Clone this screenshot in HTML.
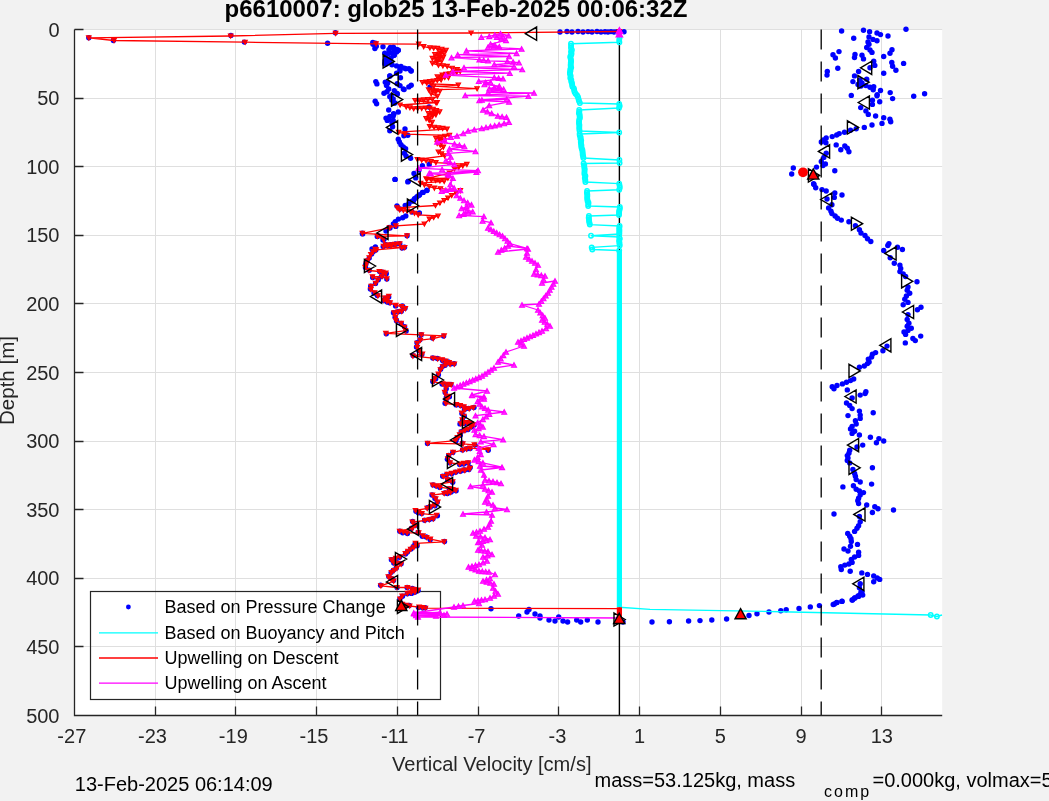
<!DOCTYPE html>
<html><head><meta charset="utf-8"><title>p6610007</title>
<style>html,body{margin:0;padding:0;background:#f2f2f2;overflow:hidden}body{width:1049px;height:801px}</style></head>
<body>
<svg width="1049" height="801" viewBox="0 0 1049 801" style="display:block;will-change:transform">
<rect x="0" y="0" width="1049" height="801" fill="#f2f2f2"/>
<rect x="74.5" y="29.5" width="867.7" height="686" fill="#fff"/>
<path d="M74.5 29.5V715.5M155.5 29.5V715.5M235.5 29.5V715.5M316.5 29.5V715.5M397.5 29.5V715.5M478.5 29.5V715.5M558.5 29.5V715.5M639.5 29.5V715.5M720.5 29.5V715.5M801.5 29.5V715.5M881.5 29.5V715.5M74.5 29.5H942.2M74.5 98.5H942.2M74.5 166.5H942.2M74.5 235.5H942.2M74.5 303.5H942.2M74.5 372.5H942.2M74.5 441.5H942.2M74.5 509.5H942.2M74.5 578.5H942.2M74.5 646.5H942.2M74.5 715.5H942.2" stroke="#dfdfdf" stroke-width="1" fill="none"/>
<rect x="90.5" y="591.5" width="350" height="108" fill="none" stroke="#262626" stroke-width="1.2"/>
<path d="M619.4 29.5V715.5" stroke="#000" stroke-width="1.4" fill="none"/>
<g fill="#0000ff"><circle cx="327.6" cy="43.2" r="2.7"/><circle cx="560" cy="32" r="2.7"/><circle cx="567" cy="31.5" r="2.7"/><circle cx="572" cy="32" r="2.7"/><circle cx="578" cy="31.5" r="2.7"/><circle cx="583" cy="32" r="2.7"/><circle cx="588" cy="31.6" r="2.7"/><circle cx="592" cy="32" r="2.7"/><circle cx="597" cy="31.5" r="2.7"/><circle cx="601" cy="32" r="2.7"/><circle cx="605" cy="31.7" r="2.7"/><circle cx="608" cy="32" r="2.7"/><circle cx="611" cy="31.6" r="2.7"/><circle cx="614" cy="32" r="2.7"/><circle cx="617" cy="31.7" r="2.7"/><circle cx="620" cy="32" r="2.7"/><circle cx="624" cy="31.8" r="2.7"/><circle cx="430" cy="87" r="2.7"/><circle cx="429" cy="107" r="2.7"/><circle cx="491" cy="608.8" r="2.7"/><circle cx="373" cy="44.2" r="2.7"/><circle cx="376.3" cy="46.2" r="2.7"/><circle cx="383" cy="46.8" r="2.7"/><circle cx="390.4" cy="47.4" r="2.7"/><circle cx="394.3" cy="49.6" r="2.7"/><circle cx="398.3" cy="50.2" r="2.7"/><circle cx="396.6" cy="51.9" r="2.7"/><circle cx="392" cy="53" r="2.7"/><circle cx="387.6" cy="54.1" r="2.7"/><circle cx="393.8" cy="55.2" r="2.7"/><circle cx="388.7" cy="60.3" r="2.7"/><circle cx="384.8" cy="63.7" r="2.7"/><circle cx="392" cy="64.8" r="2.7"/><circle cx="396.6" cy="65.9" r="2.7"/><circle cx="401" cy="66.5" r="2.7"/><circle cx="404.4" cy="68.1" r="2.7"/><circle cx="409" cy="68.7" r="2.7"/><circle cx="411.2" cy="71" r="2.7"/><circle cx="400" cy="71" r="2.7"/><circle cx="396.6" cy="73.2" r="2.7"/><circle cx="389.8" cy="76" r="2.7"/><circle cx="400.5" cy="77.7" r="2.7"/><circle cx="375.8" cy="81.6" r="2.7"/><circle cx="376.9" cy="83.9" r="2.7"/><circle cx="385.3" cy="82.2" r="2.7"/><circle cx="386.5" cy="85.6" r="2.7"/><circle cx="400" cy="85.6" r="2.7"/><circle cx="411.2" cy="85.2" r="2.7"/><circle cx="403.3" cy="89" r="2.7"/><circle cx="388.7" cy="89" r="2.7"/><circle cx="387" cy="91.7" r="2.7"/><circle cx="394.3" cy="90.6" r="2.7"/><circle cx="397.1" cy="93.4" r="2.7"/><circle cx="389.8" cy="96.8" r="2.7"/><circle cx="393.2" cy="99" r="2.7"/><circle cx="375.2" cy="101.3" r="2.7"/><circle cx="394.9" cy="103" r="2.7"/><circle cx="388.7" cy="110" r="2.7"/><circle cx="398.3" cy="112" r="2.7"/><circle cx="393.8" cy="114.2" r="2.7"/><circle cx="389.8" cy="116.5" r="2.7"/><circle cx="388.1" cy="119.3" r="2.7"/><circle cx="393.2" cy="120.4" r="2.7"/><circle cx="393.2" cy="116.1" r="2.7"/><circle cx="388.7" cy="119.5" r="2.7"/><circle cx="392" cy="122.9" r="2.7"/><circle cx="392.6" cy="126.8" r="2.7"/><circle cx="405" cy="129" r="2.7"/><circle cx="389.8" cy="130.7" r="2.7"/><circle cx="403.9" cy="135.8" r="2.7"/><circle cx="407.8" cy="135.2" r="2.7"/><circle cx="398.3" cy="139.2" r="2.7"/><circle cx="399.4" cy="142" r="2.7"/><circle cx="401" cy="144.8" r="2.7"/><circle cx="403.3" cy="147" r="2.7"/><circle cx="405.6" cy="148.7" r="2.7"/><circle cx="404.4" cy="153.2" r="2.7"/><circle cx="406.1" cy="156" r="2.7"/><circle cx="410.6" cy="158.3" r="2.7"/><circle cx="422.4" cy="165.6" r="2.7"/><circle cx="429.2" cy="164.4" r="2.7"/><circle cx="419" cy="170" r="2.7"/><circle cx="414" cy="173.4" r="2.7"/><circle cx="415.7" cy="177.9" r="2.7"/><circle cx="407.8" cy="181.9" r="2.7"/><circle cx="395.1" cy="179.4" r="2.7"/><circle cx="426.9" cy="190.3" r="2.7"/><circle cx="422.4" cy="192.5" r="2.7"/><circle cx="419" cy="195.3" r="2.7"/><circle cx="415.7" cy="198.1" r="2.7"/><circle cx="413.4" cy="201" r="2.7"/><circle cx="408.9" cy="203.8" r="2.7"/><circle cx="395" cy="179.4" r="2.7"/><circle cx="408.3" cy="181.3" r="2.7"/><circle cx="426.9" cy="190.6" r="2.7"/><circle cx="423.2" cy="192.4" r="2.7"/><circle cx="419.4" cy="194.9" r="2.7"/><circle cx="417" cy="196.8" r="2.7"/><circle cx="414.5" cy="198.6" r="2.7"/><circle cx="412" cy="201.1" r="2.7"/><circle cx="405.2" cy="205.5" r="2.7"/><circle cx="419.4" cy="212.9" r="2.7"/><circle cx="405.8" cy="216" r="2.7"/><circle cx="402.7" cy="217.8" r="2.7"/><circle cx="398.4" cy="219.1" r="2.7"/><circle cx="395.3" cy="221.6" r="2.7"/><circle cx="393.4" cy="224" r="2.7"/><circle cx="390" cy="228" r="2.7"/><circle cx="386" cy="231" r="2.7"/><circle cx="377.3" cy="236.4" r="2.7"/><circle cx="375.4" cy="247" r="2.7"/><circle cx="372" cy="249" r="2.7"/><circle cx="397" cy="206" r="2.7"/><circle cx="400" cy="209" r="2.7"/><circle cx="412" cy="212" r="2.7"/><circle cx="362.4" cy="233.3" r="2.7"/><circle cx="383" cy="240" r="2.7"/><circle cx="386" cy="245" r="2.7"/><circle cx="841.6" cy="31" r="2.7"/><circle cx="863.5" cy="30.2" r="2.7"/><circle cx="869.6" cy="31.7" r="2.7"/><circle cx="877" cy="33" r="2.7"/><circle cx="880.5" cy="34.6" r="2.7"/><circle cx="888" cy="36" r="2.7"/><circle cx="906" cy="29.2" r="2.7"/><circle cx="853.7" cy="38.3" r="2.7"/><circle cx="869" cy="37" r="2.7"/><circle cx="873" cy="39.4" r="2.7"/><circle cx="877" cy="40.7" r="2.7"/><circle cx="868" cy="41.9" r="2.7"/><circle cx="869" cy="44.3" r="2.7"/><circle cx="866.7" cy="47.5" r="2.7"/><circle cx="870" cy="50" r="2.7"/><circle cx="872" cy="52.4" r="2.7"/><circle cx="892" cy="49.7" r="2.7"/><circle cx="890" cy="53.2" r="2.7"/><circle cx="839" cy="51.6" r="2.7"/><circle cx="833" cy="54.8" r="2.7"/><circle cx="835.4" cy="58" r="2.7"/><circle cx="855" cy="54.4" r="2.7"/><circle cx="854.5" cy="57.6" r="2.7"/><circle cx="862" cy="55.3" r="2.7"/><circle cx="863.5" cy="58.9" r="2.7"/><circle cx="883.7" cy="56.5" r="2.7"/><circle cx="873.7" cy="61.3" r="2.7"/><circle cx="874.8" cy="65.4" r="2.7"/><circle cx="891.8" cy="62.5" r="2.7"/><circle cx="892.6" cy="66.2" r="2.7"/><circle cx="903.6" cy="63.4" r="2.7"/><circle cx="895.9" cy="70.2" r="2.7"/><circle cx="883.7" cy="73.2" r="2.7"/><circle cx="837.8" cy="68.3" r="2.7"/><circle cx="827.3" cy="71.5" r="2.7"/><circle cx="827" cy="75.1" r="2.7"/><circle cx="870" cy="67.8" r="2.7"/><circle cx="858.6" cy="71.5" r="2.7"/><circle cx="854.5" cy="75.9" r="2.7"/><circle cx="852.9" cy="81.6" r="2.7"/><circle cx="866.7" cy="79.2" r="2.7"/><circle cx="865.9" cy="85.6" r="2.7"/><circle cx="870" cy="87.3" r="2.7"/><circle cx="873.7" cy="86.8" r="2.7"/><circle cx="873.2" cy="89.7" r="2.7"/><circle cx="880.5" cy="90.5" r="2.7"/><circle cx="877.2" cy="94.6" r="2.7"/><circle cx="890.2" cy="92.6" r="2.7"/><circle cx="851.3" cy="95.4" r="2.7"/><circle cx="892.6" cy="98.6" r="2.7"/><circle cx="913.7" cy="96.2" r="2.7"/><circle cx="924.6" cy="93.7" r="2.7"/><circle cx="872.4" cy="100.2" r="2.7"/><circle cx="879.7" cy="101.8" r="2.7"/><circle cx="877" cy="95.8" r="2.7"/><circle cx="872.4" cy="104.4" r="2.7"/><circle cx="860.7" cy="107.6" r="2.7"/><circle cx="865.9" cy="110.9" r="2.7"/><circle cx="868.3" cy="114.4" r="2.7"/><circle cx="875.6" cy="116" r="2.7"/><circle cx="883.7" cy="117.7" r="2.7"/><circle cx="889.9" cy="119.3" r="2.7"/><circle cx="890.7" cy="121.7" r="2.7"/><circle cx="882" cy="123.4" r="2.7"/><circle cx="872" cy="125" r="2.7"/><circle cx="864.3" cy="127.4" r="2.7"/><circle cx="856.2" cy="128.7" r="2.7"/><circle cx="850.5" cy="130.3" r="2.7"/><circle cx="844.5" cy="132.3" r="2.7"/><circle cx="839.2" cy="133.6" r="2.7"/><circle cx="836.7" cy="135" r="2.7"/><circle cx="832.2" cy="136.6" r="2.7"/><circle cx="826.2" cy="138" r="2.7"/><circle cx="823.4" cy="140" r="2.7"/><circle cx="821.3" cy="142" r="2.7"/><circle cx="825.9" cy="142.8" r="2.7"/><circle cx="836.2" cy="144.9" r="2.7"/><circle cx="844.8" cy="146" r="2.7"/><circle cx="847.3" cy="148.2" r="2.7"/><circle cx="840.8" cy="149.8" r="2.7"/><circle cx="848.9" cy="151.7" r="2.7"/><circle cx="826.2" cy="153.3" r="2.7"/><circle cx="823.8" cy="157.4" r="2.7"/><circle cx="821.3" cy="161.4" r="2.7"/><circle cx="825.4" cy="163.9" r="2.7"/><circle cx="823" cy="165.5" r="2.7"/><circle cx="816.5" cy="167.1" r="2.7"/><circle cx="834.8" cy="170.7" r="2.7"/><circle cx="793.3" cy="168" r="2.7"/><circle cx="791.7" cy="174" r="2.7"/><circle cx="813.6" cy="183.7" r="2.7"/><circle cx="814" cy="184.4" r="2.7"/><circle cx="815.7" cy="187.7" r="2.7"/><circle cx="822" cy="189.6" r="2.7"/><circle cx="826.2" cy="191" r="2.7"/><circle cx="834.8" cy="192.9" r="2.7"/><circle cx="842" cy="195" r="2.7"/><circle cx="834.3" cy="197.4" r="2.7"/><circle cx="827" cy="199" r="2.7"/><circle cx="831.9" cy="204.7" r="2.7"/><circle cx="828.6" cy="208" r="2.7"/><circle cx="831" cy="211.2" r="2.7"/><circle cx="831.9" cy="213.6" r="2.7"/><circle cx="835.1" cy="216" r="2.7"/><circle cx="837.5" cy="218.2" r="2.7"/><circle cx="841.3" cy="220.1" r="2.7"/><circle cx="848.9" cy="221.7" r="2.7"/><circle cx="855.4" cy="225.8" r="2.7"/><circle cx="859.4" cy="229.8" r="2.7"/><circle cx="861" cy="233" r="2.7"/><circle cx="865" cy="235.5" r="2.7"/><circle cx="867.5" cy="238.7" r="2.7"/><circle cx="870.8" cy="241.5" r="2.7"/><circle cx="888.9" cy="243.6" r="2.7"/><circle cx="887.8" cy="245.5" r="2.7"/><circle cx="897.5" cy="247.3" r="2.7"/><circle cx="902.4" cy="249.5" r="2.7"/><circle cx="883.7" cy="250.5" r="2.7"/><circle cx="890.2" cy="257.8" r="2.7"/><circle cx="894.3" cy="263.2" r="2.7"/><circle cx="899.9" cy="265.1" r="2.7"/><circle cx="900.7" cy="268.4" r="2.7"/><circle cx="899.9" cy="271.6" r="2.7"/><circle cx="903.2" cy="274" r="2.7"/><circle cx="905.6" cy="276.5" r="2.7"/><circle cx="917" cy="281.7" r="2.7"/><circle cx="908" cy="287" r="2.7"/><circle cx="907.2" cy="290.2" r="2.7"/><circle cx="909.7" cy="293.2" r="2.7"/><circle cx="906.4" cy="295.9" r="2.7"/><circle cx="904.8" cy="299.2" r="2.7"/><circle cx="908" cy="302.4" r="2.7"/><circle cx="903.2" cy="304.8" r="2.7"/><circle cx="921" cy="307.3" r="2.7"/><circle cx="917.4" cy="309.7" r="2.7"/><circle cx="908" cy="314.6" r="2.7"/><circle cx="907.2" cy="319.4" r="2.7"/><circle cx="908.9" cy="323.3" r="2.7"/><circle cx="907.2" cy="326.3" r="2.7"/><circle cx="911.3" cy="328.3" r="2.7"/><circle cx="908" cy="330.4" r="2.7"/><circle cx="904" cy="332" r="2.7"/><circle cx="905.6" cy="334.4" r="2.7"/><circle cx="920.7" cy="336.1" r="2.7"/><circle cx="912.9" cy="338.5" r="2.7"/><circle cx="915.3" cy="340.6" r="2.7"/><circle cx="905.3" cy="342.9" r="2.7"/><circle cx="887" cy="346.1" r="2.7"/><circle cx="882.9" cy="350.7" r="2.7"/><circle cx="875.6" cy="352.6" r="2.7"/><circle cx="872.4" cy="354.2" r="2.7"/><circle cx="871.6" cy="357.1" r="2.7"/><circle cx="868.3" cy="359.1" r="2.7"/><circle cx="869.1" cy="362" r="2.7"/><circle cx="867.5" cy="363.6" r="2.7"/><circle cx="864.3" cy="366" r="2.7"/><circle cx="859.4" cy="367.2" r="2.7"/><circle cx="853.7" cy="379" r="2.7"/><circle cx="850.5" cy="380.6" r="2.7"/><circle cx="846.5" cy="382.3" r="2.7"/><circle cx="842.4" cy="383.9" r="2.7"/><circle cx="837" cy="385.5" r="2.7"/><circle cx="832.2" cy="386.8" r="2.7"/><circle cx="834" cy="388.7" r="2.7"/><circle cx="847.3" cy="389.9" r="2.7"/><circle cx="865.9" cy="391.8" r="2.7"/><circle cx="865.1" cy="393.6" r="2.7"/><circle cx="860.2" cy="395.1" r="2.7"/><circle cx="852.1" cy="397.9" r="2.7"/><circle cx="846.5" cy="403" r="2.7"/><circle cx="849.7" cy="405.4" r="2.7"/><circle cx="852.1" cy="408.6" r="2.7"/><circle cx="859.4" cy="411.1" r="2.7"/><circle cx="873.2" cy="412.7" r="2.7"/><circle cx="860.2" cy="415.1" r="2.7"/><circle cx="848" cy="415.6" r="2.7"/><circle cx="860.2" cy="418.4" r="2.7"/><circle cx="855.4" cy="420.8" r="2.7"/><circle cx="856.2" cy="424" r="2.7"/><circle cx="852.1" cy="426.5" r="2.7"/><circle cx="850.5" cy="428.9" r="2.7"/><circle cx="854.6" cy="431.3" r="2.7"/><circle cx="852.1" cy="433.4" r="2.7"/><circle cx="859.4" cy="435" r="2.7"/><circle cx="870.4" cy="437.3" r="2.7"/><circle cx="878.9" cy="438.6" r="2.7"/><circle cx="883.7" cy="441" r="2.7"/><circle cx="876.4" cy="442.7" r="2.7"/><circle cx="862.7" cy="445.1" r="2.7"/><circle cx="857" cy="447" r="2.7"/><circle cx="849.7" cy="450.3" r="2.7"/><circle cx="848.9" cy="453.2" r="2.7"/><circle cx="847.3" cy="455.6" r="2.7"/><circle cx="848" cy="458" r="2.7"/><circle cx="847.3" cy="460.5" r="2.7"/><circle cx="849.7" cy="462.9" r="2.7"/><circle cx="872.4" cy="467.8" r="2.7"/><circle cx="852.9" cy="469.4" r="2.7"/><circle cx="854.6" cy="473.5" r="2.7"/><circle cx="855.4" cy="476.3" r="2.7"/><circle cx="856.2" cy="479.6" r="2.7"/><circle cx="860.2" cy="482" r="2.7"/><circle cx="871.6" cy="484.1" r="2.7"/><circle cx="853.4" cy="485.7" r="2.7"/><circle cx="842.9" cy="486.9" r="2.7"/><circle cx="856.2" cy="489.3" r="2.7"/><circle cx="859.4" cy="490.9" r="2.7"/><circle cx="863.5" cy="492.6" r="2.7"/><circle cx="860.2" cy="495" r="2.7"/><circle cx="858.6" cy="498.2" r="2.7"/><circle cx="857.8" cy="500.7" r="2.7"/><circle cx="858.6" cy="503.6" r="2.7"/><circle cx="866.7" cy="505" r="2.7"/><circle cx="874.8" cy="506.8" r="2.7"/><circle cx="878" cy="508.8" r="2.7"/><circle cx="893.5" cy="510" r="2.7"/><circle cx="872.4" cy="512.5" r="2.7"/><circle cx="834" cy="514" r="2.7"/><circle cx="859.4" cy="516.5" r="2.7"/><circle cx="860.2" cy="521.7" r="2.7"/><circle cx="858.6" cy="525.8" r="2.7"/><circle cx="857" cy="528.2" r="2.7"/><circle cx="854.6" cy="531.4" r="2.7"/><circle cx="847.7" cy="533.4" r="2.7"/><circle cx="849.7" cy="536.3" r="2.7"/><circle cx="851" cy="538.7" r="2.7"/><circle cx="851.3" cy="541.4" r="2.7"/><circle cx="857.5" cy="544.4" r="2.7"/><circle cx="850.5" cy="546.2" r="2.7"/><circle cx="844" cy="549" r="2.7"/><circle cx="848" cy="551" r="2.7"/><circle cx="858.6" cy="552.2" r="2.7"/><circle cx="858.6" cy="555.4" r="2.7"/><circle cx="854.6" cy="557" r="2.7"/><circle cx="851.3" cy="559.4" r="2.7"/><circle cx="852.1" cy="562.4" r="2.7"/><circle cx="848.9" cy="564" r="2.7"/><circle cx="844.8" cy="565.1" r="2.7"/><circle cx="840.8" cy="566.7" r="2.7"/><circle cx="841.3" cy="569.5" r="2.7"/><circle cx="850.2" cy="571.3" r="2.7"/><circle cx="861.8" cy="572.9" r="2.7"/><circle cx="867.5" cy="574.4" r="2.7"/><circle cx="873.7" cy="576" r="2.7"/><circle cx="879.7" cy="579.4" r="2.7"/><circle cx="877.2" cy="578" r="2.7"/><circle cx="873.7" cy="581.8" r="2.7"/><circle cx="860.2" cy="583.8" r="2.7"/><circle cx="859.4" cy="587.8" r="2.7"/><circle cx="861" cy="591.9" r="2.7"/><circle cx="862.7" cy="595.1" r="2.7"/><circle cx="858.6" cy="596.4" r="2.7"/><circle cx="854.6" cy="598" r="2.7"/><circle cx="852.1" cy="600" r="2.7"/><circle cx="842" cy="601.3" r="2.7"/><circle cx="836.7" cy="602.4" r="2.7"/><circle cx="833.2" cy="604.5" r="2.7"/><circle cx="819.4" cy="605.6" r="2.7"/><circle cx="810.3" cy="606.9" r="2.7"/><circle cx="799" cy="608.4" r="2.7"/><circle cx="786.2" cy="609.7" r="2.7"/><circle cx="780.8" cy="610.8" r="2.7"/><circle cx="769" cy="612" r="2.7"/><circle cx="757" cy="613.7" r="2.7"/><circle cx="749" cy="615.5" r="2.7"/><circle cx="726.6" cy="619" r="2.7"/><circle cx="711.8" cy="620" r="2.7"/><circle cx="700" cy="620.6" r="2.7"/><circle cx="688.6" cy="621" r="2.7"/><circle cx="669.4" cy="621.7" r="2.7"/><circle cx="652" cy="622" r="2.7"/><circle cx="623" cy="622" r="2.7"/><circle cx="598" cy="622" r="2.7"/><circle cx="587.3" cy="620" r="2.7"/><circle cx="580.7" cy="622" r="2.7"/><circle cx="576.7" cy="620" r="2.7"/><circle cx="567.6" cy="622" r="2.7"/><circle cx="563" cy="621" r="2.7"/><circle cx="558.7" cy="617" r="2.7"/><circle cx="555" cy="621" r="2.7"/><circle cx="549" cy="620" r="2.7"/><circle cx="540" cy="618" r="2.7"/><circle cx="540" cy="616" r="2.7"/><circle cx="535" cy="614" r="2.7"/><circle cx="529" cy="609.5" r="2.7"/><circle cx="527" cy="612" r="2.7"/><circle cx="518.7" cy="616" r="2.7"/><circle cx="834.4" cy="604" r="2.7"/><circle cx="837" cy="602.6" r="2.7"/><circle cx="842" cy="601.4" r="2.7"/><circle cx="852.5" cy="600" r="2.7"/><circle cx="855" cy="598" r="2.7"/><circle cx="858" cy="596" r="2.7"/><circle cx="860" cy="594.6" r="2.7"/><circle cx="862" cy="592" r="2.7"/><circle cx="335.4" cy="32.8" r="2.7"/><circle cx="230.9" cy="35.4" r="2.7"/><circle cx="88.8" cy="37.7" r="2.7"/><circle cx="113.4" cy="40.5" r="2.7"/><circle cx="244.4" cy="42.1" r="2.7"/><circle cx="375.4" cy="43.2" r="2.7"/><circle cx="395.8" cy="226.4" r="2.7"/><circle cx="389.2" cy="227.4" r="2.7"/><circle cx="362.6" cy="233.9" r="2.7"/><circle cx="407.1" cy="235.7" r="2.7"/><circle cx="378" cy="235.8" r="2.7"/><circle cx="384" cy="239.2" r="2.7"/><circle cx="385.5" cy="244.6" r="2.7"/><circle cx="390.3" cy="245.1" r="2.7"/><circle cx="394.6" cy="244.4" r="2.7"/><circle cx="399.8" cy="243.7" r="2.7"/><circle cx="395.6" cy="243.9" r="2.7"/><circle cx="390.9" cy="244.7" r="2.7"/><circle cx="387.8" cy="245.6" r="2.7"/><circle cx="383.2" cy="246.4" r="2.7"/><circle cx="404.5" cy="247.3" r="2.7"/><circle cx="402.1" cy="248" r="2.7"/><circle cx="375.8" cy="249.9" r="2.7"/><circle cx="375.1" cy="249.7" r="2.7"/><circle cx="373.3" cy="251.6" r="2.7"/><circle cx="371.6" cy="254" r="2.7"/><circle cx="369.2" cy="258.1" r="2.7"/><circle cx="367.2" cy="260.9" r="2.7"/><circle cx="365.8" cy="264.3" r="2.7"/><circle cx="365.5" cy="267.4" r="2.7"/><circle cx="369.3" cy="270.2" r="2.7"/><circle cx="379.7" cy="271.6" r="2.7"/><circle cx="382.7" cy="272.2" r="2.7"/><circle cx="386.3" cy="273.7" r="2.7"/><circle cx="386.8" cy="279.1" r="2.7"/><circle cx="381.4" cy="276.6" r="2.7"/><circle cx="372.7" cy="277.5" r="2.7"/><circle cx="378.3" cy="279.7" r="2.7"/><circle cx="375.5" cy="283.4" r="2.7"/><circle cx="370.7" cy="286.3" r="2.7"/><circle cx="370.4" cy="289" r="2.7"/><circle cx="374" cy="293.1" r="2.7"/><circle cx="377.3" cy="295.5" r="2.7"/><circle cx="388.7" cy="296.9" r="2.7"/><circle cx="385.7" cy="298.2" r="2.7"/><circle cx="383.7" cy="300.6" r="2.7"/><circle cx="387.2" cy="302" r="2.7"/><circle cx="389.7" cy="302.7" r="2.7"/><circle cx="395.6" cy="305.9" r="2.7"/><circle cx="402.3" cy="306" r="2.7"/><circle cx="404.9" cy="308.2" r="2.7"/><circle cx="401.3" cy="311.3" r="2.7"/><circle cx="398.1" cy="311.8" r="2.7"/><circle cx="393.5" cy="312.8" r="2.7"/><circle cx="395.1" cy="317.2" r="2.7"/><circle cx="396.5" cy="320.8" r="2.7"/><circle cx="401.2" cy="323.4" r="2.7"/><circle cx="404.6" cy="326.8" r="2.7"/><circle cx="406.1" cy="331" r="2.7"/><circle cx="386.3" cy="333.7" r="2.7"/><circle cx="421.2" cy="334.8" r="2.7"/><circle cx="443.6" cy="336.1" r="2.7"/><circle cx="432.5" cy="338" r="2.7"/><circle cx="419.9" cy="339.7" r="2.7"/><circle cx="417" cy="342.8" r="2.7"/><circle cx="416.5" cy="347.1" r="2.7"/><circle cx="418.7" cy="350.6" r="2.7"/><circle cx="421.8" cy="354.5" r="2.7"/><circle cx="413.1" cy="355.6" r="2.7"/><circle cx="432.8" cy="358" r="2.7"/><circle cx="437.4" cy="358.5" r="2.7"/><circle cx="442.6" cy="360.5" r="2.7"/><circle cx="445.5" cy="361.1" r="2.7"/><circle cx="448.4" cy="361.9" r="2.7"/><circle cx="454.1" cy="363.8" r="2.7"/><circle cx="450.5" cy="363.9" r="2.7"/><circle cx="445.1" cy="365.2" r="2.7"/><circle cx="442.6" cy="366.2" r="2.7"/><circle cx="440.6" cy="369.2" r="2.7"/><circle cx="438.4" cy="374.8" r="2.7"/><circle cx="435.7" cy="378.7" r="2.7"/><circle cx="432.8" cy="381.4" r="2.7"/><circle cx="442.1" cy="384.1" r="2.7"/><circle cx="446.9" cy="384.6" r="2.7"/><circle cx="450.9" cy="384.4" r="2.7"/><circle cx="446.2" cy="388.7" r="2.7"/><circle cx="445.2" cy="392.6" r="2.7"/><circle cx="449.4" cy="396.7" r="2.7"/><circle cx="446.4" cy="397.1" r="2.7"/><circle cx="446.1" cy="399.6" r="2.7"/><circle cx="445.1" cy="403.2" r="2.7"/><circle cx="456.1" cy="404.9" r="2.7"/><circle cx="460.7" cy="405.6" r="2.7"/><circle cx="464.4" cy="407.4" r="2.7"/><circle cx="474" cy="407.5" r="2.7"/><circle cx="468.8" cy="408.4" r="2.7"/><circle cx="464.5" cy="409.5" r="2.7"/><circle cx="461.9" cy="413.6" r="2.7"/><circle cx="464.3" cy="416.2" r="2.7"/><circle cx="462.4" cy="420.4" r="2.7"/><circle cx="460" cy="423.9" r="2.7"/><circle cx="464.4" cy="423.5" r="2.7"/><circle cx="467.4" cy="422.6" r="2.7"/><circle cx="470.2" cy="424.1" r="2.7"/><circle cx="474.2" cy="425.1" r="2.7"/><circle cx="471.9" cy="426.7" r="2.7"/><circle cx="468" cy="429.6" r="2.7"/><circle cx="465.2" cy="430.1" r="2.7"/><circle cx="461.2" cy="431.7" r="2.7"/><circle cx="460.2" cy="435.3" r="2.7"/><circle cx="457" cy="438" r="2.7"/><circle cx="456" cy="440.8" r="2.7"/><circle cx="427.5" cy="443.4" r="2.7"/><circle cx="462.3" cy="443.1" r="2.7"/><circle cx="475.1" cy="445.1" r="2.7"/><circle cx="488.2" cy="450.3" r="2.7"/><circle cx="470.1" cy="448.6" r="2.7"/><circle cx="467" cy="448.7" r="2.7"/><circle cx="462.5" cy="449.9" r="2.7"/><circle cx="452.8" cy="452.4" r="2.7"/><circle cx="448.7" cy="455.4" r="2.7"/><circle cx="447.4" cy="459.3" r="2.7"/><circle cx="449.8" cy="462.8" r="2.7"/><circle cx="459.7" cy="464.6" r="2.7"/><circle cx="463.7" cy="464" r="2.7"/><circle cx="468.1" cy="462.9" r="2.7"/><circle cx="470.2" cy="467.5" r="2.7"/><circle cx="464.8" cy="470" r="2.7"/><circle cx="468.9" cy="469.5" r="2.7"/><circle cx="463.8" cy="470.1" r="2.7"/><circle cx="460.4" cy="471.2" r="2.7"/><circle cx="455.6" cy="472.2" r="2.7"/><circle cx="451.6" cy="473.7" r="2.7"/><circle cx="446.7" cy="474.5" r="2.7"/><circle cx="442.7" cy="476.2" r="2.7"/><circle cx="447.7" cy="479.7" r="2.7"/><circle cx="452.7" cy="482.2" r="2.7"/><circle cx="433.1" cy="484.9" r="2.7"/><circle cx="436.4" cy="486.1" r="2.7"/><circle cx="439.9" cy="487.4" r="2.7"/><circle cx="449.3" cy="488.7" r="2.7"/><circle cx="452.6" cy="490.1" r="2.7"/><circle cx="456.1" cy="490.8" r="2.7"/><circle cx="451.1" cy="492.1" r="2.7"/><circle cx="447.4" cy="493.6" r="2.7"/><circle cx="444.6" cy="493" r="2.7"/><circle cx="432" cy="495" r="2.7"/><circle cx="435" cy="498.4" r="2.7"/><circle cx="437.2" cy="502.2" r="2.7"/><circle cx="435" cy="505.8" r="2.7"/><circle cx="430.4" cy="507.1" r="2.7"/><circle cx="427.4" cy="507.8" r="2.7"/><circle cx="416" cy="511.2" r="2.7"/><circle cx="418.3" cy="512.7" r="2.7"/><circle cx="421.7" cy="513.6" r="2.7"/><circle cx="437.4" cy="515.7" r="2.7"/><circle cx="433" cy="518.8" r="2.7"/><circle cx="429.3" cy="519.5" r="2.7"/><circle cx="424.6" cy="520.2" r="2.7"/><circle cx="412.6" cy="521.4" r="2.7"/><circle cx="415.6" cy="525.2" r="2.7"/><circle cx="411.6" cy="528.3" r="2.7"/><circle cx="399.8" cy="531.2" r="2.7"/><circle cx="402.7" cy="532.7" r="2.7"/><circle cx="407.4" cy="533.5" r="2.7"/><circle cx="418.1" cy="532.5" r="2.7"/><circle cx="422.3" cy="536.3" r="2.7"/><circle cx="426.3" cy="537" r="2.7"/><circle cx="430.2" cy="539.7" r="2.7"/><circle cx="444.5" cy="541.5" r="2.7"/><circle cx="415" cy="544" r="2.7"/><circle cx="417.1" cy="545.8" r="2.7"/><circle cx="413.2" cy="546.7" r="2.7"/><circle cx="410.9" cy="549.1" r="2.7"/><circle cx="407.4" cy="552" r="2.7"/><circle cx="405.5" cy="553.9" r="2.7"/><circle cx="399.4" cy="557.2" r="2.7"/><circle cx="395.1" cy="558.8" r="2.7"/><circle cx="391.4" cy="559.7" r="2.7"/><circle cx="393.8" cy="563.1" r="2.7"/><circle cx="397.1" cy="562.8" r="2.7"/><circle cx="401.1" cy="563.7" r="2.7"/><circle cx="396.3" cy="567.9" r="2.7"/><circle cx="393.5" cy="570.1" r="2.7"/><circle cx="391.2" cy="572.3" r="2.7"/><circle cx="388.8" cy="576.5" r="2.7"/><circle cx="391.1" cy="578.5" r="2.7"/><circle cx="393.5" cy="580.4" r="2.7"/><circle cx="380.6" cy="585.2" r="2.7"/><circle cx="397.1" cy="587.6" r="2.7"/><circle cx="407.1" cy="587.5" r="2.7"/><circle cx="412.3" cy="588.5" r="2.7"/><circle cx="415.3" cy="589.5" r="2.7"/><circle cx="418.1" cy="590.6" r="2.7"/><circle cx="414.8" cy="592.2" r="2.7"/><circle cx="411.5" cy="593.4" r="2.7"/><circle cx="407.3" cy="593.8" r="2.7"/><circle cx="402.5" cy="596.2" r="2.7"/><circle cx="399.9" cy="598.9" r="2.7"/><circle cx="401.6" cy="603.9" r="2.7"/><circle cx="405.3" cy="605.5" r="2.7"/><circle cx="409.3" cy="605.5" r="2.7"/><circle cx="418.5" cy="607.6" r="2.7"/><circle cx="422.8" cy="607.9" r="2.7"/><circle cx="425.2" cy="607.8" r="2.7"/><circle cx="860" cy="80" r="2.7"/><circle cx="862" cy="83" r="2.7"/><circle cx="858" cy="84.5" r="2.7"/><circle cx="861" cy="86" r="2.7"/><circle cx="386" cy="58" r="2.7"/><circle cx="388" cy="61" r="2.7"/><circle cx="386" cy="64" r="2.7"/><circle cx="390" cy="62" r="2.7"/><circle cx="385" cy="61" r="2.7"/><circle cx="391" cy="58" r="2.7"/><circle cx="372.8" cy="42.5" r="2.7"/><circle cx="374.9" cy="48.5" r="2.7"/><circle cx="388.9" cy="49.7" r="2.7"/><circle cx="393.4" cy="47.1" r="2.7"/><circle cx="398.1" cy="50.2" r="2.7"/><circle cx="396.6" cy="49.4" r="2.7"/><circle cx="389.5" cy="52.5" r="2.7"/><circle cx="384.7" cy="53.1" r="2.7"/><circle cx="394.3" cy="55.3" r="2.7"/><circle cx="400" cy="68.9" r="2.7"/><circle cx="405.7" cy="68.8" r="2.7"/><circle cx="411" cy="70.7" r="2.7"/><circle cx="389.9" cy="76" r="2.7"/><circle cx="387.7" cy="83.1" r="2.7"/><circle cx="397.2" cy="83.8" r="2.7"/><circle cx="408.8" cy="86.9" r="2.7"/><circle cx="404.1" cy="89.6" r="2.7"/><circle cx="384" cy="93.2" r="2.7"/><circle cx="397.3" cy="94.2" r="2.7"/><circle cx="391.2" cy="95.6" r="2.7"/><circle cx="391.8" cy="100.1" r="2.7"/><circle cx="376.6" cy="103.7" r="2.7"/><circle cx="394.2" cy="102.9" r="2.7"/><circle cx="386" cy="118.1" r="2.7"/><circle cx="393.6" cy="113.7" r="2.7"/><circle cx="387.3" cy="120.4" r="2.7"/></g>
<path d="M619.4 37.7L619.4 42.2L571 43.7L571.5 50L570.5 58L571 66L570 74L571 80L572 85L575 92L578 97L580 103L619.4 104L619.4 108L579 110L579.5 118L579 125L579.7 131L619.4 132.5L580 134L581 142L582 150L583 158L619.4 160L619.4 163L584 163.5L584.5 170L585 176L585.5 182L619.4 183.6L619.4 189.7L587 191L587.5 198L588.5 206L619.4 207L619.4 215L589 216L589.5 224.6L619.4 226L619.4 234L591.4 235.7L619.4 237L619.4 245.6L592 247.4L592.5 249.5L619.4 250.5" stroke="#00ffff" stroke-width="1.4" fill="none" stroke-linejoin="round"/>
<path d="M619.4 250V607.3" stroke="#00ffff" stroke-width="5.2" fill="none"/>
<path d="M619.4 607.3L650 609.4L780 611.7L930.7 615L936.9 616.5L942 615" stroke="#00ffff" stroke-width="1.4" fill="none"/>
<g fill="none" stroke="#00ffff" stroke-width="1.5"><circle cx="619.6" cy="37.7" r="2.2"/><circle cx="619.2" cy="40" r="2.2"/><circle cx="619.4" cy="42.2" r="2.2"/><circle cx="571" cy="43.7" r="2.2"/><circle cx="571.1" cy="45.8" r="2.2"/><circle cx="571" cy="47.9" r="2.2"/><circle cx="571.9" cy="50" r="2.2"/><circle cx="571" cy="51.6" r="2.2"/><circle cx="571.5" cy="53.2" r="2.2"/><circle cx="571.3" cy="54.8" r="2.2"/><circle cx="570.3" cy="56.4" r="2.2"/><circle cx="570.5" cy="58" r="2.2"/><circle cx="570.9" cy="59.6" r="2.2"/><circle cx="571.1" cy="61.2" r="2.2"/><circle cx="570.8" cy="62.8" r="2.2"/><circle cx="570.7" cy="64.4" r="2.2"/><circle cx="570.7" cy="66" r="2.2"/><circle cx="571.2" cy="67.6" r="2.2"/><circle cx="570.3" cy="69.2" r="2.2"/><circle cx="570.5" cy="70.8" r="2.2"/><circle cx="569.9" cy="72.4" r="2.2"/><circle cx="570" cy="74" r="2.2"/><circle cx="570.7" cy="76" r="2.2"/><circle cx="570.3" cy="78" r="2.2"/><circle cx="571.3" cy="80" r="2.2"/><circle cx="571.3" cy="81.7" r="2.2"/><circle cx="572" cy="83.3" r="2.2"/><circle cx="572.2" cy="85" r="2.2"/><circle cx="572.5" cy="86.8" r="2.2"/><circle cx="573.9" cy="88.5" r="2.2"/><circle cx="574.2" cy="90.2" r="2.2"/><circle cx="574.6" cy="92" r="2.2"/><circle cx="575.6" cy="93.7" r="2.2"/><circle cx="577" cy="95.3" r="2.2"/><circle cx="578" cy="97" r="2.2"/><circle cx="578.5" cy="99" r="2.2"/><circle cx="579" cy="101" r="2.2"/><circle cx="579.9" cy="103" r="2.2"/><circle cx="619.2" cy="104" r="2.2"/><circle cx="619.7" cy="106" r="2.2"/><circle cx="619" cy="108" r="2.2"/><circle cx="579.2" cy="110" r="2.2"/><circle cx="579.4" cy="111.6" r="2.2"/><circle cx="578.9" cy="113.2" r="2.2"/><circle cx="579.7" cy="114.8" r="2.2"/><circle cx="579.6" cy="116.4" r="2.2"/><circle cx="579.9" cy="118" r="2.2"/><circle cx="579.2" cy="119.8" r="2.2"/><circle cx="579.1" cy="121.5" r="2.2"/><circle cx="579" cy="123.2" r="2.2"/><circle cx="579.4" cy="125" r="2.2"/><circle cx="579.3" cy="127" r="2.2"/><circle cx="579.3" cy="129" r="2.2"/><circle cx="579.6" cy="131" r="2.2"/><circle cx="619.2" cy="132.5" r="2.2"/><circle cx="579.6" cy="134" r="2.2"/><circle cx="579.8" cy="135.6" r="2.2"/><circle cx="580.7" cy="137.2" r="2.2"/><circle cx="580.4" cy="138.8" r="2.2"/><circle cx="581.2" cy="140.4" r="2.2"/><circle cx="580.8" cy="142" r="2.2"/><circle cx="581" cy="143.6" r="2.2"/><circle cx="581.4" cy="145.2" r="2.2"/><circle cx="581.3" cy="146.8" r="2.2"/><circle cx="581.7" cy="148.4" r="2.2"/><circle cx="582.4" cy="150" r="2.2"/><circle cx="582.5" cy="151.6" r="2.2"/><circle cx="582.7" cy="153.2" r="2.2"/><circle cx="582.7" cy="154.8" r="2.2"/><circle cx="583.2" cy="156.4" r="2.2"/><circle cx="583.4" cy="158" r="2.2"/><circle cx="619.4" cy="160" r="2.2"/><circle cx="619.6" cy="163" r="2.2"/><circle cx="583.6" cy="163.5" r="2.2"/><circle cx="584.3" cy="165.1" r="2.2"/><circle cx="584.2" cy="166.8" r="2.2"/><circle cx="584.6" cy="168.4" r="2.2"/><circle cx="584.6" cy="170" r="2.2"/><circle cx="584.5" cy="172" r="2.2"/><circle cx="584.4" cy="174" r="2.2"/><circle cx="585.4" cy="176" r="2.2"/><circle cx="584.8" cy="178" r="2.2"/><circle cx="585.3" cy="180" r="2.2"/><circle cx="585.4" cy="182" r="2.2"/><circle cx="619.2" cy="183.6" r="2.2"/><circle cx="619.6" cy="185.6" r="2.2"/><circle cx="619.8" cy="187.7" r="2.2"/><circle cx="619.2" cy="189.7" r="2.2"/><circle cx="587.1" cy="191" r="2.2"/><circle cx="586.9" cy="192.8" r="2.2"/><circle cx="587.3" cy="194.5" r="2.2"/><circle cx="587.3" cy="196.2" r="2.2"/><circle cx="587.2" cy="198" r="2.2"/><circle cx="587.4" cy="199.6" r="2.2"/><circle cx="587.6" cy="201.2" r="2.2"/><circle cx="588.5" cy="202.8" r="2.2"/><circle cx="588.3" cy="204.4" r="2.2"/><circle cx="588.2" cy="206" r="2.2"/><circle cx="619.8" cy="207" r="2.2"/><circle cx="619.8" cy="208.6" r="2.2"/><circle cx="619.4" cy="210.2" r="2.2"/><circle cx="619.1" cy="211.8" r="2.2"/><circle cx="619.1" cy="213.4" r="2.2"/><circle cx="619" cy="215" r="2.2"/><circle cx="588.9" cy="216" r="2.2"/><circle cx="588.7" cy="217.7" r="2.2"/><circle cx="589" cy="219.4" r="2.2"/><circle cx="589.1" cy="221.2" r="2.2"/><circle cx="589.5" cy="222.9" r="2.2"/><circle cx="589.8" cy="224.6" r="2.2"/><circle cx="619.6" cy="226" r="2.2"/><circle cx="619.3" cy="227.6" r="2.2"/><circle cx="619.3" cy="229.2" r="2.2"/><circle cx="619.4" cy="230.8" r="2.2"/><circle cx="619.3" cy="232.4" r="2.2"/><circle cx="619.3" cy="234" r="2.2"/><circle cx="591" cy="235.7" r="2.2"/><circle cx="619.2" cy="237" r="2.2"/><circle cx="619.8" cy="238.7" r="2.2"/><circle cx="619.1" cy="240.4" r="2.2"/><circle cx="619.4" cy="242.2" r="2.2"/><circle cx="619.5" cy="243.9" r="2.2"/><circle cx="619.7" cy="245.6" r="2.2"/><circle cx="591.7" cy="247.4" r="2.2"/><circle cx="592.3" cy="249.5" r="2.2"/><circle cx="619.2" cy="250.5" r="2.2"/><circle cx="930.7" cy="615" r="2.2"/><circle cx="936.9" cy="616.5" r="2.2"/></g>
<path d="M619.4 31.5L471 33L335.6 33.3L230.7 36L88.7 37.9L114 40.5L245 42.2L376 43.8L418.7 44.1L423.7 46.6L429.9 47.8L437.3 48.4L446 50.3L439.8 51.5L444.1 53.4L434.8 54.6L443.5 57.1L432.3 58.4L441.6 60.8L432.3 63.3L438.5 65.2L447.2 66.4L452.2 68.3L457.1 69.5L460.2 71.4L449.7 73.8L442.3 75.1L448.5 77.6L437.3 76.9L441 80L422.4 82.5L431.1 83.8L458.4 85L433.6 86.2L477 88.7L428.6 89.9L439.8 91.2L431.1 93.7L437.3 96.2L432.3 99.3L415 100.5L436 103L437.1 102.5L400 105L406.2 106.8L413.6 108.7L429.7 108L439.6 111.8L428.5 113.6L435.9 114.9L426 118.6L432.2 122.3L429.7 126.6L447 129.1L398.7 132.2L404.9 134.1L449.5 135.3L435.9 138.4L444.6 140.9L437.1 143.4L443.3 147.1L438.4 152L444.6 155.8L417.3 159.5L426 160.7L435.9 162.6L466.9 164.4L454.5 168.8L449.5 173.1L426 178.7L447.9 178.2L426.9 179.4L444.2 181.3L420.7 183.2L424.4 185L434.3 188.1L440.5 188.7L460.3 190.6L451.7 195.5L444.2 200.5L435.5 205.5L397.1 207.9L399.6 209.8L410.8 211.7L418.2 214.8L438 216L429.3 219.1L424.4 224L395.9 225.9L389.7 227.8L362.4 233.3L407 235.8L377.3 236.4L383.5 239.5L386 245.1L399.6 243.9L383.5 246.3L404.6 247.6L401.7 247.7L376.2 249.8L375.1 249.2L370.9 254.5L367.7 260.9L365.1 267.3L368.8 270.5L379.4 271.5L385.8 273.1L386.8 278.9L382 276.3L372.5 276.8L377.8 280L375.7 283.2L371.4 286.4L370.9 289.5L374.6 292.7L377.8 295.9L388.9 296.4L383.6 300.1L390 302.8L395.8 305.4L401.7 306.5L405.4 308.6L401.7 311.3L394.2 312.9L395.3 317.1L395.9 320.5L401.2 323.2L404.4 327.4L405.5 330.6L385.8 333.3L421.4 334.9L444.2 335.9L433.1 338.6L420.3 340.2L417.2 343.4L417.2 347.6L419.3 350.8L422.5 354L412.9 356.1L433.1 358.2L442.1 359.8L449 362.5L454.3 364.1L445.8 364.6L442.6 366.7L440.5 369.9L438.4 374.1L435.2 378.4L433.1 381.6L442.6 383.7L451.1 384.8L445.8 388L444.7 392.2L449 396.4L446.8 397.1L445.8 403.5L456.4 404.6L463.8 406.7L473.4 407.7L464.9 409.9L461.7 413L463.8 416.2L460.6 423.7L467 422.6L474.4 424.7L468.1 429L461.7 432.2L457.5 437.5L455.3 440.6L427.7 443.3L462.8 443.8L474.4 444.9L488.2 449.7L470.2 448.1L462.8 450.2L453.2 452.3L449 455.5L447.9 458.7L450 462.9L459.6 464L468.1 462.9L470.2 468.2L464.9 470.4L469.6 469.1L464.3 470.1L455.8 472.2L447.3 474.4L443.1 476.5L447.3 479.7L452.6 481.8L432.5 485L439.9 487.1L449.4 488.7L455.8 490.3L450.5 492.4L444.1 493.5L432.5 495.1L435.6 498.8L437.8 502L434.6 505.2L427.2 508.3L415.5 510.5L421.8 513.6L436.7 515.2L433.5 518.9L425 520.5L412.3 522.1L415.5 525.3L412.3 528.5L399.6 531.2L407 532.8L418.7 532.8L422.9 535.9L430.3 539.1L444.1 541.8L415.5 543.4L417 545.5L410.6 549.2L405.3 553.5L400 556.7L391.5 559.9L393.7 562.5L401.1 564.1L396.8 568.4L391.5 572.6L388.4 576.8L393.7 581.1L380.9 585.9L396.8 587.5L407.5 587.5L411.7 589.1L418.1 590.1L414.9 592.2L407.5 593.3L402.2 596L400 599.1L402.2 604.4L409.6 606L419.1 607.1L425.5 608.2L619.4 608.6L619.4 618" stroke="#ff0000" stroke-width="1.3" fill="none" stroke-linejoin="round"/>
<path d="M617.1 29.5l4.5 0l-2.2 4.2zM468.8 31l4.5 0l-2.2 4.2zM333.4 31.3l4.5 0l-2.2 4.2zM228.4 34l4.5 0l-2.2 4.2zM86.5 35.9l4.5 0l-2.2 4.2zM111.8 38.5l4.5 0l-2.2 4.2zM242.8 40.2l4.5 0l-2.2 4.2zM373.8 41.8l4.5 0l-2.2 4.2zM416.4 42.1l4.5 0l-2.2 4.2zM421.4 44.6l4.5 0l-2.2 4.2zM427.6 45.8l4.5 0l-2.2 4.2zM431.4 46.1l4.5 0l-2.2 4.2zM435.1 46.4l4.5 0l-2.2 4.2zM439.4 47.3l4.5 0l-2.2 4.2zM443.8 48.3l4.5 0l-2.2 4.2zM437.6 49.5l4.5 0l-2.2 4.2zM441.9 51.4l4.5 0l-2.2 4.2zM437.2 52l4.5 0l-2.2 4.2zM432.6 52.6l4.5 0l-2.2 4.2zM436.9 53.8l4.5 0l-2.2 4.2zM441.2 55.1l4.5 0l-2.2 4.2zM437.5 55.5l4.5 0l-2.2 4.2zM433.8 55.9l4.5 0l-2.2 4.2zM430.1 56.4l4.5 0l-2.2 4.2zM434.7 57.6l4.5 0l-2.2 4.2zM439.4 58.8l4.5 0l-2.2 4.2zM434.7 60l4.5 0l-2.2 4.2zM430.1 61.3l4.5 0l-2.2 4.2zM436.2 63.2l4.5 0l-2.2 4.2zM440.6 63.8l4.5 0l-2.2 4.2zM444.9 64.4l4.5 0l-2.2 4.2zM449.9 66.3l4.5 0l-2.2 4.2zM454.9 67.5l4.5 0l-2.2 4.2zM457.9 69.4l4.5 0l-2.2 4.2zM454.4 70.2l4.5 0l-2.2 4.2zM450.9 71l4.5 0l-2.2 4.2zM447.4 71.8l4.5 0l-2.2 4.2zM443.8 72.4l4.5 0l-2.2 4.2zM440.1 73.1l4.5 0l-2.2 4.2zM446.2 75.6l4.5 0l-2.2 4.2zM442.5 75.3l4.5 0l-2.2 4.2zM438.8 75.1l4.5 0l-2.2 4.2zM435.1 74.9l4.5 0l-2.2 4.2zM438.8 78l4.5 0l-2.2 4.2zM435 78.5l4.5 0l-2.2 4.2zM431.3 79l4.5 0l-2.2 4.2zM427.6 79.5l4.5 0l-2.2 4.2zM423.9 80l4.5 0l-2.2 4.2zM420.1 80.5l4.5 0l-2.2 4.2zM424.5 81.1l4.5 0l-2.2 4.2zM428.9 81.8l4.5 0l-2.2 4.2zM456.1 83l4.5 0l-2.2 4.2zM431.4 84.2l4.5 0l-2.2 4.2zM474.8 86.7l4.5 0l-2.2 4.2zM426.4 87.9l4.5 0l-2.2 4.2zM430.1 88.3l4.5 0l-2.2 4.2zM433.8 88.7l4.5 0l-2.2 4.2zM437.6 89.2l4.5 0l-2.2 4.2zM433.2 90.4l4.5 0l-2.2 4.2zM428.9 91.7l4.5 0l-2.2 4.2zM435.1 94.2l4.5 0l-2.2 4.2zM430.1 97.3l4.5 0l-2.2 4.2zM425.7 97.6l4.5 0l-2.2 4.2zM421.4 97.9l4.5 0l-2.2 4.2zM417.1 98.2l4.5 0l-2.2 4.2zM412.8 98.5l4.5 0l-2.2 4.2zM433.8 101l4.5 0l-2.2 4.2zM434.9 100.5l4.5 0l-2.2 4.2zM397.8 103l4.5 0l-2.2 4.2zM403.9 104.8l4.5 0l-2.2 4.2zM407.6 105.7l4.5 0l-2.2 4.2zM411.4 106.7l4.5 0l-2.2 4.2zM415.4 106.5l4.5 0l-2.2 4.2zM419.4 106.3l4.5 0l-2.2 4.2zM423.4 106.1l4.5 0l-2.2 4.2zM427.4 106l4.5 0l-2.2 4.2zM430.8 107.2l4.5 0l-2.2 4.2zM434.1 108.5l4.5 0l-2.2 4.2zM437.4 109.8l4.5 0l-2.2 4.2zM433.7 110.4l4.5 0l-2.2 4.2zM429.9 111l4.5 0l-2.2 4.2zM426.2 111.6l4.5 0l-2.2 4.2zM429.9 112.2l4.5 0l-2.2 4.2zM433.6 112.9l4.5 0l-2.2 4.2zM430.3 114.1l4.5 0l-2.2 4.2zM427.1 115.3l4.5 0l-2.2 4.2zM423.8 116.6l4.5 0l-2.2 4.2zM426.9 118.4l4.5 0l-2.2 4.2zM429.9 120.3l4.5 0l-2.2 4.2zM427.4 124.6l4.5 0l-2.2 4.2zM431.8 125.2l4.5 0l-2.2 4.2zM436.1 125.8l4.5 0l-2.2 4.2zM440.4 126.4l4.5 0l-2.2 4.2zM444.8 127.1l4.5 0l-2.2 4.2zM396.4 130.2l4.5 0l-2.2 4.2zM402.6 132.1l4.5 0l-2.2 4.2zM447.2 133.3l4.5 0l-2.2 4.2zM442.7 134.3l4.5 0l-2.2 4.2zM438.2 135.3l4.5 0l-2.2 4.2zM433.6 136.4l4.5 0l-2.2 4.2zM438 137.6l4.5 0l-2.2 4.2zM442.4 138.9l4.5 0l-2.2 4.2zM438.6 140.1l4.5 0l-2.2 4.2zM434.9 141.4l4.5 0l-2.2 4.2zM438 143.2l4.5 0l-2.2 4.2zM441.1 145.1l4.5 0l-2.2 4.2zM436.1 150l4.5 0l-2.2 4.2zM439.2 151.9l4.5 0l-2.2 4.2zM442.4 153.8l4.5 0l-2.2 4.2zM415.1 157.5l4.5 0l-2.2 4.2zM419.4 158.1l4.5 0l-2.2 4.2zM423.8 158.7l4.5 0l-2.2 4.2zM428.7 159.6l4.5 0l-2.2 4.2zM433.6 160.6l4.5 0l-2.2 4.2zM464.6 162.4l4.5 0l-2.2 4.2zM460.5 163.8l4.5 0l-2.2 4.2zM456.4 165.3l4.5 0l-2.2 4.2zM452.2 166.8l4.5 0l-2.2 4.2zM447.2 171.1l4.5 0l-2.2 4.2zM423.8 176.7l4.5 0l-2.2 4.2zM445.6 176.2l4.5 0l-2.2 4.2zM424.6 177.4l4.5 0l-2.2 4.2zM429 177.8l4.5 0l-2.2 4.2zM433.3 178.3l4.5 0l-2.2 4.2zM437.6 178.8l4.5 0l-2.2 4.2zM441.9 179.3l4.5 0l-2.2 4.2zM418.4 181.2l4.5 0l-2.2 4.2zM422.1 183l4.5 0l-2.2 4.2zM427.1 184.5l4.5 0l-2.2 4.2zM432.1 186.1l4.5 0l-2.2 4.2zM438.2 186.7l4.5 0l-2.2 4.2zM458.1 188.6l4.5 0l-2.2 4.2zM453.8 191l4.5 0l-2.2 4.2zM449.4 193.5l4.5 0l-2.2 4.2zM445.7 196l4.5 0l-2.2 4.2zM441.9 198.5l4.5 0l-2.2 4.2zM437.6 201l4.5 0l-2.2 4.2zM433.2 203.5l4.5 0l-2.2 4.2zM394.9 205.9l4.5 0l-2.2 4.2zM397.4 207.8l4.5 0l-2.2 4.2zM401.1 208.4l4.5 0l-2.2 4.2zM404.8 209l4.5 0l-2.2 4.2zM408.6 209.7l4.5 0l-2.2 4.2zM412.2 211.2l4.5 0l-2.2 4.2zM415.9 212.8l4.5 0l-2.2 4.2zM435.8 214l4.5 0l-2.2 4.2zM431.4 215.5l4.5 0l-2.2 4.2zM427.1 217.1l4.5 0l-2.2 4.2zM422.1 222l4.5 0l-2.2 4.2zM393.6 223.9l4.5 0l-2.2 4.2zM387.4 225.8l4.5 0l-2.2 4.2zM360.1 231.3l4.5 0l-2.2 4.2zM404.8 233.8l4.5 0l-2.2 4.2zM375.1 234.4l4.5 0l-2.2 4.2zM381.2 237.5l4.5 0l-2.2 4.2zM383.8 243.1l4.5 0l-2.2 4.2zM388.3 242.7l4.5 0l-2.2 4.2zM392.8 242.3l4.5 0l-2.2 4.2zM397.4 241.9l4.5 0l-2.2 4.2zM393.3 242.5l4.5 0l-2.2 4.2zM389.3 243.1l4.5 0l-2.2 4.2zM385.3 243.7l4.5 0l-2.2 4.2zM381.2 244.3l4.5 0l-2.2 4.2zM402.4 245.6l4.5 0l-2.2 4.2zM399.4 245.7l4.5 0l-2.2 4.2zM373.9 247.8l4.5 0l-2.2 4.2zM372.9 247.2l4.5 0l-2.2 4.2zM370.8 249.8l4.5 0l-2.2 4.2zM368.6 252.5l4.5 0l-2.2 4.2zM367 255.7l4.5 0l-2.2 4.2zM365.4 258.9l4.5 0l-2.2 4.2zM364.1 262.1l4.5 0l-2.2 4.2zM362.9 265.3l4.5 0l-2.2 4.2zM366.6 268.5l4.5 0l-2.2 4.2zM377.1 269.5l4.5 0l-2.2 4.2zM380.4 270.3l4.5 0l-2.2 4.2zM383.6 271.1l4.5 0l-2.2 4.2zM384.6 276.9l4.5 0l-2.2 4.2zM379.8 274.3l4.5 0l-2.2 4.2zM370.2 274.8l4.5 0l-2.2 4.2zM375.6 278l4.5 0l-2.2 4.2zM373.4 281.2l4.5 0l-2.2 4.2zM369.1 284.4l4.5 0l-2.2 4.2zM368.6 287.5l4.5 0l-2.2 4.2zM372.4 290.7l4.5 0l-2.2 4.2zM375.6 293.9l4.5 0l-2.2 4.2zM386.6 294.4l4.5 0l-2.2 4.2zM384 296.2l4.5 0l-2.2 4.2zM381.4 298.1l4.5 0l-2.2 4.2zM384.6 299.4l4.5 0l-2.2 4.2zM387.8 300.8l4.5 0l-2.2 4.2zM393.6 303.4l4.5 0l-2.2 4.2zM399.4 304.5l4.5 0l-2.2 4.2zM403.1 306.6l4.5 0l-2.2 4.2zM399.4 309.3l4.5 0l-2.2 4.2zM395.7 310.1l4.5 0l-2.2 4.2zM391.9 310.9l4.5 0l-2.2 4.2zM393.1 315.1l4.5 0l-2.2 4.2zM393.6 318.5l4.5 0l-2.2 4.2zM398.9 321.2l4.5 0l-2.2 4.2zM402.1 325.4l4.5 0l-2.2 4.2zM403.2 328.6l4.5 0l-2.2 4.2zM383.6 331.3l4.5 0l-2.2 4.2zM419.1 332.9l4.5 0l-2.2 4.2zM441.9 333.9l4.5 0l-2.2 4.2zM430.9 336.6l4.5 0l-2.2 4.2zM418.1 338.2l4.5 0l-2.2 4.2zM414.9 341.4l4.5 0l-2.2 4.2zM414.9 345.6l4.5 0l-2.2 4.2zM417.1 348.8l4.5 0l-2.2 4.2zM420.2 352l4.5 0l-2.2 4.2zM410.6 354.1l4.5 0l-2.2 4.2zM430.9 356.2l4.5 0l-2.2 4.2zM435.4 357l4.5 0l-2.2 4.2zM439.9 357.8l4.5 0l-2.2 4.2zM443.3 359.1l4.5 0l-2.2 4.2zM446.8 360.5l4.5 0l-2.2 4.2zM452.1 362.1l4.5 0l-2.2 4.2zM447.8 362.3l4.5 0l-2.2 4.2zM443.6 362.6l4.5 0l-2.2 4.2zM440.4 364.7l4.5 0l-2.2 4.2zM438.2 367.9l4.5 0l-2.2 4.2zM436.1 372.1l4.5 0l-2.2 4.2zM432.9 376.4l4.5 0l-2.2 4.2zM430.9 379.6l4.5 0l-2.2 4.2zM440.4 381.7l4.5 0l-2.2 4.2zM444.6 382.2l4.5 0l-2.2 4.2zM448.9 382.8l4.5 0l-2.2 4.2zM443.6 386l4.5 0l-2.2 4.2zM442.4 390.2l4.5 0l-2.2 4.2zM446.8 394.4l4.5 0l-2.2 4.2zM444.6 395.1l4.5 0l-2.2 4.2zM444.1 398.3l4.5 0l-2.2 4.2zM443.6 401.5l4.5 0l-2.2 4.2zM454.1 402.6l4.5 0l-2.2 4.2zM457.9 403.6l4.5 0l-2.2 4.2zM461.6 404.7l4.5 0l-2.2 4.2zM471.1 405.7l4.5 0l-2.2 4.2zM466.9 406.8l4.5 0l-2.2 4.2zM462.6 407.9l4.5 0l-2.2 4.2zM459.4 411l4.5 0l-2.2 4.2zM461.6 414.2l4.5 0l-2.2 4.2zM460 417.9l4.5 0l-2.2 4.2zM458.4 421.7l4.5 0l-2.2 4.2zM461.6 421.1l4.5 0l-2.2 4.2zM464.8 420.6l4.5 0l-2.2 4.2zM468.4 421.6l4.5 0l-2.2 4.2zM472.1 422.7l4.5 0l-2.2 4.2zM469 424.8l4.5 0l-2.2 4.2zM465.9 427l4.5 0l-2.2 4.2zM462.6 428.6l4.5 0l-2.2 4.2zM459.4 430.2l4.5 0l-2.2 4.2zM457.4 432.8l4.5 0l-2.2 4.2zM455.2 435.5l4.5 0l-2.2 4.2zM453.1 438.6l4.5 0l-2.2 4.2zM425.4 441.3l4.5 0l-2.2 4.2zM460.6 441.8l4.5 0l-2.2 4.2zM472.1 442.9l4.5 0l-2.2 4.2zM485.9 447.7l4.5 0l-2.2 4.2zM467.9 446.1l4.5 0l-2.2 4.2zM464.2 447.1l4.5 0l-2.2 4.2zM460.6 448.2l4.5 0l-2.2 4.2zM450.9 450.3l4.5 0l-2.2 4.2zM446.8 453.5l4.5 0l-2.2 4.2zM445.6 456.7l4.5 0l-2.2 4.2zM447.8 460.9l4.5 0l-2.2 4.2zM457.4 462l4.5 0l-2.2 4.2zM461.6 461.4l4.5 0l-2.2 4.2zM465.9 460.9l4.5 0l-2.2 4.2zM467.9 466.2l4.5 0l-2.2 4.2zM462.6 468.4l4.5 0l-2.2 4.2zM467.4 467.1l4.5 0l-2.2 4.2zM462.1 468.1l4.5 0l-2.2 4.2zM457.8 469.1l4.5 0l-2.2 4.2zM453.6 470.2l4.5 0l-2.2 4.2zM449.3 471.3l4.5 0l-2.2 4.2zM445.1 472.4l4.5 0l-2.2 4.2zM440.9 474.5l4.5 0l-2.2 4.2zM445.1 477.7l4.5 0l-2.2 4.2zM450.4 479.8l4.5 0l-2.2 4.2zM430.2 483l4.5 0l-2.2 4.2zM433.9 484l4.5 0l-2.2 4.2zM437.6 485.1l4.5 0l-2.2 4.2zM447.1 486.7l4.5 0l-2.2 4.2zM450.4 487.5l4.5 0l-2.2 4.2zM453.6 488.3l4.5 0l-2.2 4.2zM448.2 490.4l4.5 0l-2.2 4.2zM445.1 490.9l4.5 0l-2.2 4.2zM441.9 491.5l4.5 0l-2.2 4.2zM430.2 493.1l4.5 0l-2.2 4.2zM433.4 496.8l4.5 0l-2.2 4.2zM435.6 500l4.5 0l-2.2 4.2zM432.4 503.2l4.5 0l-2.2 4.2zM428.6 504.7l4.5 0l-2.2 4.2zM424.9 506.3l4.5 0l-2.2 4.2zM413.2 508.5l4.5 0l-2.2 4.2zM416.4 510l4.5 0l-2.2 4.2zM419.6 511.6l4.5 0l-2.2 4.2zM434.4 513.2l4.5 0l-2.2 4.2zM431.2 516.9l4.5 0l-2.2 4.2zM427 517.7l4.5 0l-2.2 4.2zM422.8 518.5l4.5 0l-2.2 4.2zM410.1 520.1l4.5 0l-2.2 4.2zM413.2 523.3l4.5 0l-2.2 4.2zM410.1 526.5l4.5 0l-2.2 4.2zM397.4 529.2l4.5 0l-2.2 4.2zM401.1 530l4.5 0l-2.2 4.2zM404.8 530.8l4.5 0l-2.2 4.2zM416.4 530.8l4.5 0l-2.2 4.2zM420.6 533.9l4.5 0l-2.2 4.2zM424.4 535.5l4.5 0l-2.2 4.2zM428.1 537.1l4.5 0l-2.2 4.2zM441.9 539.8l4.5 0l-2.2 4.2zM413.2 541.4l4.5 0l-2.2 4.2zM414.8 543.5l4.5 0l-2.2 4.2zM411.6 545.3l4.5 0l-2.2 4.2zM408.4 547.2l4.5 0l-2.2 4.2zM405.7 549.3l4.5 0l-2.2 4.2zM403.1 551.5l4.5 0l-2.2 4.2zM397.8 554.7l4.5 0l-2.2 4.2zM393.5 556.3l4.5 0l-2.2 4.2zM389.2 557.9l4.5 0l-2.2 4.2zM391.4 560.5l4.5 0l-2.2 4.2zM395.1 561.3l4.5 0l-2.2 4.2zM398.9 562.1l4.5 0l-2.2 4.2zM394.6 566.4l4.5 0l-2.2 4.2zM391.9 568.5l4.5 0l-2.2 4.2zM389.2 570.6l4.5 0l-2.2 4.2zM386.1 574.8l4.5 0l-2.2 4.2zM388.8 576.9l4.5 0l-2.2 4.2zM391.4 579.1l4.5 0l-2.2 4.2zM378.6 583.9l4.5 0l-2.2 4.2zM394.6 585.5l4.5 0l-2.2 4.2zM405.2 585.5l4.5 0l-2.2 4.2zM409.4 587.1l4.5 0l-2.2 4.2zM412.6 587.6l4.5 0l-2.2 4.2zM415.9 588.1l4.5 0l-2.2 4.2zM412.6 590.2l4.5 0l-2.2 4.2zM408.9 590.7l4.5 0l-2.2 4.2zM405.2 591.3l4.5 0l-2.2 4.2zM399.9 594l4.5 0l-2.2 4.2zM397.8 597.1l4.5 0l-2.2 4.2zM399.9 602.4l4.5 0l-2.2 4.2zM403.6 603.2l4.5 0l-2.2 4.2zM407.4 604l4.5 0l-2.2 4.2zM416.9 605.1l4.5 0l-2.2 4.2zM420.1 605.6l4.5 0l-2.2 4.2zM423.2 606.2l4.5 0l-2.2 4.2z" stroke="#ff0000" stroke-width="1.1" fill="#ff0000" fill-opacity="0.8" stroke-linejoin="miter"/>
<rect x="616.8" y="607.3" width="5.2" height="10" fill="#ff0000"/>
<path d="M481.3 37.3L489.3 36.4L500.5 33.6L508.6 35.7L496.8 37.3L506 40.4L490.6 44.1L499.3 46.6L488 47.2L521.6 49L466.4 50.9L516.6 53.4L457.7 54.6L509.2 56.5L451.5 57.7L479.4 59.6L488.1 60.8L507.3 61.5L519 62.7L494.3 64.6L514 66.4L464 67.7L522.2 69.5L452.8 71.4L509.8 73.2L445.7 75.1L494.3 77.6L503 78.8L478.8 81.3L485.6 82.5L490.6 82.5L484.4 84.4L499.3 86.2L489.3 88.7L503.6 89.3L488.1 92.4L534 93L465.2 95.5L528.4 96.2L481.9 99.9L506.7 99.3L479.3 100.6L509 101.9L489.2 105.6L483 109.9L491.7 113.6L497.8 116.1L506.5 117.3L509 122.3L499.1 124.8L490.4 126.6L481.7 128.5L474.3 129.7L468.1 131L463.2 133.5L457 135.9L450.8 137.2L444.6 140.3L437.1 142.1L454.5 144L464.4 146.5L449.5 149L475.5 151.4L448.3 153.3L450.8 157L445.8 160.7L454.5 164.4L418.5 168.2L442.1 169.4L478 170.6L430.9 173.7L449.5 175.6L429.3 173.2L476.4 172.2L447.9 174.5L452.9 178.2L450.4 184.4L454.1 188.1L441.7 191.2L460.3 190.6L456.6 195.5L464 200.5L471.5 204.8L461.6 208.6L472.7 211.7L459.1 215.4L483.9 216.6L482.6 220.9L491 222.7L488 228L502.5 236L510 243.6L527 248.4L508 246L498 252L528 249L526 257L538 265L534 274L545 276L542 283L555 281L548 293L539 304L522 305L538 310L545 318L542 320L550 326L542 331L518 342L524 346L506 352L498 362L514 365L494 368L482 376L454 388L487 391L472 395L484 399L472.3 395.5L484 396.6L477.6 401.4L481.9 406.7L488.2 409.9L504.2 412L475.5 415.7L489.3 414.1L482.9 419.4L477.6 422.6L482.9 426.8L474.4 430L475.5 434.3L484 436.4L503.1 439.6L480.8 441.7L493.6 444.4L478.7 448.1L480.8 454.4L474.4 459.8L482.9 462.9L502 467.2L480 466L502 467.5L481 470L484 475L485 480L493 481.5L501 483.5L483 485L470.5 486.5L485 489L492 492L488 496L485 502L493 505L495 508L507 509.5L486.5 512L463 514L492 515L491 521L488 527L480 531L473 533L476 536L485 537.5L490 539.5L479 542L478 542.5L482 545L478 550L488 551.5L492 554.5L483 557L487 561L479 564.5L468.5 567L479 571L489 572L495 574.5L490 578.5L483 581L494 584L493 588L498 594L490 598L485 599.5L474.5 601L479 603.5L463 605.5L454 607L413.8 613L440 612.5L414 613.6L447 614L416 615.5L436 616L416 614L444 615L418 617L619.4 618" stroke="#ff00ff" stroke-width="1.3" fill="none" stroke-linejoin="round"/>
<path d="M616.9 33.2l5 0l-2.5 -4.6zM478.8 39.5l5 0l-2.5 -4.6zM486.8 38.6l5 0l-2.5 -4.6zM492.4 37.2l5 0l-2.5 -4.6zM498 35.9l5 0l-2.5 -4.6zM506.1 38l5 0l-2.5 -4.6zM500.2 38.8l5 0l-2.5 -4.6zM494.3 39.5l5 0l-2.5 -4.6zM498.9 41.1l5 0l-2.5 -4.6zM503.5 42.6l5 0l-2.5 -4.6zM488.1 46.4l5 0l-2.5 -4.6zM492.5 47.6l5 0l-2.5 -4.6zM496.8 48.9l5 0l-2.5 -4.6zM491.1 49.2l5 0l-2.5 -4.6zM485.5 49.5l5 0l-2.5 -4.6zM519.1 51.2l5 0l-2.5 -4.6zM463.9 53.1l5 0l-2.5 -4.6zM514.1 55.6l5 0l-2.5 -4.6zM455.2 56.9l5 0l-2.5 -4.6zM506.7 58.8l5 0l-2.5 -4.6zM449 60l5 0l-2.5 -4.6zM476.9 61.9l5 0l-2.5 -4.6zM481.2 62.5l5 0l-2.5 -4.6zM485.6 63l5 0l-2.5 -4.6zM504.8 63.8l5 0l-2.5 -4.6zM510.6 64.3l5 0l-2.5 -4.6zM516.5 65l5 0l-2.5 -4.6zM491.8 66.8l5 0l-2.5 -4.6zM511.5 68.7l5 0l-2.5 -4.6zM461.5 70l5 0l-2.5 -4.6zM519.7 71.8l5 0l-2.5 -4.6zM450.3 73.7l5 0l-2.5 -4.6zM507.3 75.5l5 0l-2.5 -4.6zM443.2 77.3l5 0l-2.5 -4.6zM491.8 79.8l5 0l-2.5 -4.6zM496.1 80.4l5 0l-2.5 -4.6zM500.5 81l5 0l-2.5 -4.6zM476.3 83.5l5 0l-2.5 -4.6zM483.1 84.8l5 0l-2.5 -4.6zM488.1 84.8l5 0l-2.5 -4.6zM481.9 86.7l5 0l-2.5 -4.6zM496.8 88.5l5 0l-2.5 -4.6zM491.8 89.7l5 0l-2.5 -4.6zM486.8 91l5 0l-2.5 -4.6zM491.6 91.2l5 0l-2.5 -4.6zM496.3 91.3l5 0l-2.5 -4.6zM501.1 91.5l5 0l-2.5 -4.6zM485.6 94.7l5 0l-2.5 -4.6zM531.5 95.2l5 0l-2.5 -4.6zM462.7 97.8l5 0l-2.5 -4.6zM525.9 98.5l5 0l-2.5 -4.6zM479.4 102.2l5 0l-2.5 -4.6zM504.2 101.5l5 0l-2.5 -4.6zM476.8 102.8l5 0l-2.5 -4.6zM506.5 104.2l5 0l-2.5 -4.6zM486.7 107.8l5 0l-2.5 -4.6zM480.5 112.2l5 0l-2.5 -4.6zM484.9 114l5 0l-2.5 -4.6zM489.2 115.8l5 0l-2.5 -4.6zM495.3 118.3l5 0l-2.5 -4.6zM499.6 118.9l5 0l-2.5 -4.6zM504 119.5l5 0l-2.5 -4.6zM506.5 124.5l5 0l-2.5 -4.6zM501.6 125.8l5 0l-2.5 -4.6zM496.6 127l5 0l-2.5 -4.6zM492.2 127.9l5 0l-2.5 -4.6zM487.9 128.8l5 0l-2.5 -4.6zM483.5 129.8l5 0l-2.5 -4.6zM479.2 130.8l5 0l-2.5 -4.6zM471.8 131.9l5 0l-2.5 -4.6zM465.6 133.2l5 0l-2.5 -4.6zM460.7 135.8l5 0l-2.5 -4.6zM454.5 138.2l5 0l-2.5 -4.6zM448.3 139.4l5 0l-2.5 -4.6zM442.1 142.6l5 0l-2.5 -4.6zM434.6 144.3l5 0l-2.5 -4.6zM452 146.2l5 0l-2.5 -4.6zM456.9 147.5l5 0l-2.5 -4.6zM461.9 148.8l5 0l-2.5 -4.6zM447 151.2l5 0l-2.5 -4.6zM473 153.7l5 0l-2.5 -4.6zM445.8 155.6l5 0l-2.5 -4.6zM448.3 159.2l5 0l-2.5 -4.6zM443.3 162.9l5 0l-2.5 -4.6zM447.6 164.8l5 0l-2.5 -4.6zM452 166.7l5 0l-2.5 -4.6zM416 170.4l5 0l-2.5 -4.6zM439.6 171.7l5 0l-2.5 -4.6zM475.5 172.8l5 0l-2.5 -4.6zM428.4 175.9l5 0l-2.5 -4.6zM447 177.8l5 0l-2.5 -4.6zM426.8 175.4l5 0l-2.5 -4.6zM473.9 174.4l5 0l-2.5 -4.6zM445.4 176.8l5 0l-2.5 -4.6zM450.4 180.4l5 0l-2.5 -4.6zM447.9 186.7l5 0l-2.5 -4.6zM451.6 190.3l5 0l-2.5 -4.6zM447.5 191.4l5 0l-2.5 -4.6zM443.3 192.4l5 0l-2.5 -4.6zM439.2 193.4l5 0l-2.5 -4.6zM457.8 192.8l5 0l-2.5 -4.6zM454.1 197.8l5 0l-2.5 -4.6zM457.8 200.2l5 0l-2.5 -4.6zM461.5 202.8l5 0l-2.5 -4.6zM465.2 204.9l5 0l-2.5 -4.6zM469 207.1l5 0l-2.5 -4.6zM464.1 208.9l5 0l-2.5 -4.6zM459.1 210.8l5 0l-2.5 -4.6zM464.6 212.4l5 0l-2.5 -4.6zM470.2 213.9l5 0l-2.5 -4.6zM465.7 215.2l5 0l-2.5 -4.6zM461.1 216.4l5 0l-2.5 -4.6zM456.6 217.7l5 0l-2.5 -4.6zM481.4 218.8l5 0l-2.5 -4.6zM480.1 223.2l5 0l-2.5 -4.6zM488.5 224.9l5 0l-2.5 -4.6zM485.5 230.2l5 0l-2.5 -4.6zM488.4 231.8l5 0l-2.5 -4.6zM491.3 233.4l5 0l-2.5 -4.6zM494.2 235.1l5 0l-2.5 -4.6zM497.1 236.7l5 0l-2.5 -4.6zM500 238.2l5 0l-2.5 -4.6zM502.5 240.8l5 0l-2.5 -4.6zM505 243.3l5 0l-2.5 -4.6zM507.5 245.8l5 0l-2.5 -4.6zM524.5 250.7l5 0l-2.5 -4.6zM505.5 248.2l5 0l-2.5 -4.6zM502.2 250.2l5 0l-2.5 -4.6zM498.8 252.2l5 0l-2.5 -4.6zM495.5 254.2l5 0l-2.5 -4.6zM525.5 251.2l5 0l-2.5 -4.6zM524.5 255.2l5 0l-2.5 -4.6zM523.5 259.2l5 0l-2.5 -4.6zM526.5 261.2l5 0l-2.5 -4.6zM529.5 263.2l5 0l-2.5 -4.6zM532.5 265.2l5 0l-2.5 -4.6zM535.5 267.2l5 0l-2.5 -4.6zM533.5 271.8l5 0l-2.5 -4.6zM531.5 276.2l5 0l-2.5 -4.6zM535.2 276.9l5 0l-2.5 -4.6zM538.8 277.6l5 0l-2.5 -4.6zM542.5 278.2l5 0l-2.5 -4.6zM541 281.8l5 0l-2.5 -4.6zM539.5 285.2l5 0l-2.5 -4.6zM552.5 283.2l5 0l-2.5 -4.6zM550.8 286.2l5 0l-2.5 -4.6zM549 289.2l5 0l-2.5 -4.6zM547.2 292.2l5 0l-2.5 -4.6zM545.5 295.2l5 0l-2.5 -4.6zM543.2 298l5 0l-2.5 -4.6zM541 300.8l5 0l-2.5 -4.6zM538.8 303.5l5 0l-2.5 -4.6zM536.5 306.2l5 0l-2.5 -4.6zM519.5 307.2l5 0l-2.5 -4.6zM535.5 312.2l5 0l-2.5 -4.6zM537.8 314.9l5 0l-2.5 -4.6zM540.2 317.6l5 0l-2.5 -4.6zM542.5 320.2l5 0l-2.5 -4.6zM539.5 322.2l5 0l-2.5 -4.6zM542.2 324.2l5 0l-2.5 -4.6zM544.8 326.2l5 0l-2.5 -4.6zM547.5 328.2l5 0l-2.5 -4.6zM543.5 330.8l5 0l-2.5 -4.6zM539.5 333.2l5 0l-2.5 -4.6zM536.5 334.6l5 0l-2.5 -4.6zM533.5 336l5 0l-2.5 -4.6zM530.5 337.4l5 0l-2.5 -4.6zM527.5 338.8l5 0l-2.5 -4.6zM524.5 340.1l5 0l-2.5 -4.6zM521.5 341.5l5 0l-2.5 -4.6zM518.5 342.9l5 0l-2.5 -4.6zM515.5 344.2l5 0l-2.5 -4.6zM518.5 346.2l5 0l-2.5 -4.6zM521.5 348.2l5 0l-2.5 -4.6zM503.5 354.2l5 0l-2.5 -4.6zM500.8 357.6l5 0l-2.5 -4.6zM498.2 360.9l5 0l-2.5 -4.6zM495.5 364.2l5 0l-2.5 -4.6zM511.5 367.2l5 0l-2.5 -4.6zM491.5 370.2l5 0l-2.5 -4.6zM488.5 372.2l5 0l-2.5 -4.6zM485.5 374.2l5 0l-2.5 -4.6zM482.5 376.2l5 0l-2.5 -4.6zM479.5 378.2l5 0l-2.5 -4.6zM476.4 379.6l5 0l-2.5 -4.6zM473.3 380.9l5 0l-2.5 -4.6zM470.2 382.2l5 0l-2.5 -4.6zM467.1 383.6l5 0l-2.5 -4.6zM463.9 384.9l5 0l-2.5 -4.6zM460.8 386.2l5 0l-2.5 -4.6zM457.7 387.6l5 0l-2.5 -4.6zM454.6 388.9l5 0l-2.5 -4.6zM451.5 390.2l5 0l-2.5 -4.6zM484.5 393.2l5 0l-2.5 -4.6zM469.5 397.2l5 0l-2.5 -4.6zM481.5 401.2l5 0l-2.5 -4.6zM469.8 397.8l5 0l-2.5 -4.6zM481.5 398.9l5 0l-2.5 -4.6zM478.3 401.2l5 0l-2.5 -4.6zM475.1 403.6l5 0l-2.5 -4.6zM477.2 406.3l5 0l-2.5 -4.6zM479.4 408.9l5 0l-2.5 -4.6zM482.5 410.5l5 0l-2.5 -4.6zM485.7 412.1l5 0l-2.5 -4.6zM501.7 414.2l5 0l-2.5 -4.6zM473 417.9l5 0l-2.5 -4.6zM486.8 416.4l5 0l-2.5 -4.6zM483.6 419l5 0l-2.5 -4.6zM480.4 421.6l5 0l-2.5 -4.6zM475.1 424.9l5 0l-2.5 -4.6zM477.8 427l5 0l-2.5 -4.6zM480.4 429.1l5 0l-2.5 -4.6zM476.1 430.6l5 0l-2.5 -4.6zM471.9 432.2l5 0l-2.5 -4.6zM473 436.6l5 0l-2.5 -4.6zM477.2 437.6l5 0l-2.5 -4.6zM481.5 438.6l5 0l-2.5 -4.6zM500.6 441.9l5 0l-2.5 -4.6zM478.3 443.9l5 0l-2.5 -4.6zM491.1 446.6l5 0l-2.5 -4.6zM476.2 450.4l5 0l-2.5 -4.6zM477.2 453.5l5 0l-2.5 -4.6zM478.3 456.6l5 0l-2.5 -4.6zM475.1 459.4l5 0l-2.5 -4.6zM471.9 462.1l5 0l-2.5 -4.6zM476.1 463.6l5 0l-2.5 -4.6zM480.4 465.1l5 0l-2.5 -4.6zM499.5 469.4l5 0l-2.5 -4.6zM477.5 468.2l5 0l-2.5 -4.6zM499.5 469.8l5 0l-2.5 -4.6zM478.5 472.2l5 0l-2.5 -4.6zM481.5 477.2l5 0l-2.5 -4.6zM482.5 482.2l5 0l-2.5 -4.6zM486.5 483l5 0l-2.5 -4.6zM490.5 483.8l5 0l-2.5 -4.6zM494.5 484.8l5 0l-2.5 -4.6zM498.5 485.8l5 0l-2.5 -4.6zM480.5 487.2l5 0l-2.5 -4.6zM468 488.8l5 0l-2.5 -4.6zM482.5 491.2l5 0l-2.5 -4.6zM486 492.8l5 0l-2.5 -4.6zM489.5 494.2l5 0l-2.5 -4.6zM485.5 498.2l5 0l-2.5 -4.6zM484 501.2l5 0l-2.5 -4.6zM482.5 504.2l5 0l-2.5 -4.6zM486.5 505.8l5 0l-2.5 -4.6zM490.5 507.2l5 0l-2.5 -4.6zM492.5 510.2l5 0l-2.5 -4.6zM504.5 511.8l5 0l-2.5 -4.6zM484 514.2l5 0l-2.5 -4.6zM460.5 516.2l5 0l-2.5 -4.6zM489.5 517.2l5 0l-2.5 -4.6zM488.5 523.2l5 0l-2.5 -4.6zM487 526.2l5 0l-2.5 -4.6zM485.5 529.2l5 0l-2.5 -4.6zM481.5 531.2l5 0l-2.5 -4.6zM477.5 533.2l5 0l-2.5 -4.6zM474 534.2l5 0l-2.5 -4.6zM470.5 535.2l5 0l-2.5 -4.6zM473.5 538.2l5 0l-2.5 -4.6zM478 539l5 0l-2.5 -4.6zM482.5 539.8l5 0l-2.5 -4.6zM487.5 541.8l5 0l-2.5 -4.6zM483.8 542.6l5 0l-2.5 -4.6zM480.2 543.4l5 0l-2.5 -4.6zM476.5 544.2l5 0l-2.5 -4.6zM475.5 544.8l5 0l-2.5 -4.6zM479.5 547.2l5 0l-2.5 -4.6zM475.5 552.2l5 0l-2.5 -4.6zM478.8 552.8l5 0l-2.5 -4.6zM482.2 553.2l5 0l-2.5 -4.6zM485.5 553.8l5 0l-2.5 -4.6zM489.5 556.8l5 0l-2.5 -4.6zM485 558l5 0l-2.5 -4.6zM480.5 559.2l5 0l-2.5 -4.6zM484.5 563.2l5 0l-2.5 -4.6zM480.5 565l5 0l-2.5 -4.6zM476.5 566.8l5 0l-2.5 -4.6zM473 567.6l5 0l-2.5 -4.6zM469.5 568.4l5 0l-2.5 -4.6zM466 569.2l5 0l-2.5 -4.6zM469.5 570.6l5 0l-2.5 -4.6zM473 571.9l5 0l-2.5 -4.6zM476.5 573.2l5 0l-2.5 -4.6zM479.8 573.6l5 0l-2.5 -4.6zM483.2 573.9l5 0l-2.5 -4.6zM486.5 574.2l5 0l-2.5 -4.6zM492.5 576.8l5 0l-2.5 -4.6zM487.5 580.8l5 0l-2.5 -4.6zM484 582l5 0l-2.5 -4.6zM480.5 583.2l5 0l-2.5 -4.6zM484.2 584.2l5 0l-2.5 -4.6zM487.8 585.2l5 0l-2.5 -4.6zM491.5 586.2l5 0l-2.5 -4.6zM490.5 590.2l5 0l-2.5 -4.6zM493 593.2l5 0l-2.5 -4.6zM495.5 596.2l5 0l-2.5 -4.6zM491.5 598.2l5 0l-2.5 -4.6zM487.5 600.2l5 0l-2.5 -4.6zM482.5 601.8l5 0l-2.5 -4.6zM479 602.2l5 0l-2.5 -4.6zM475.5 602.8l5 0l-2.5 -4.6zM472 603.2l5 0l-2.5 -4.6zM476.5 605.8l5 0l-2.5 -4.6zM460.5 607.8l5 0l-2.5 -4.6zM456 608.5l5 0l-2.5 -4.6zM451.5 609.2l5 0l-2.5 -4.6zM411.3 615.2l5 0l-2.5 -4.6zM437.5 614.8l5 0l-2.5 -4.6zM411.5 615.9l5 0l-2.5 -4.6zM444.5 616.2l5 0l-2.5 -4.6zM413.5 617.8l5 0l-2.5 -4.6zM433.5 618.2l5 0l-2.5 -4.6zM413.5 616.2l5 0l-2.5 -4.6zM441.5 617.2l5 0l-2.5 -4.6zM415.5 619.2l5 0l-2.5 -4.6z" stroke="#ff00ff" stroke-width="1.1" fill="#ff00ff" fill-opacity="0.8"/>
<path d="M616.1 33.5l6.6 0l-3.3 -6.1zM616.1 37l6.6 0l-3.3 -6.1z" stroke="#ff00ff" stroke-width="1.2" fill="#ff00ff"/>
<path d="M417.6 29.5V715.5" stroke="#000" stroke-width="1.3" stroke-dasharray="20 12" fill="none"/>
<path d="M821.2 29.5V715.5" stroke="#000" stroke-width="1.3" stroke-dasharray="20 12" fill="none"/>
<path d="M525.4 33.7L536.6 27.1L536.6 40.3ZM394.3 61.4L383.1 54.8L383.1 68ZM387 79.4L398.2 72.8L398.2 86ZM402.7 99.6L391.5 93L391.5 106.2ZM386.4 127.4L397.6 120.8L397.6 134ZM412.6 154.6L401.4 148L401.4 161.2ZM409 179.6L420.2 173L420.2 186.2ZM418.6 205.5L407.4 198.9L407.4 212.1ZM376.8 233L388 226.4L388 239.6ZM375.6 266L364.4 259.4L364.4 272.6ZM370.4 296.6L381.6 290L381.6 303.2ZM407.6 330L396.4 323.4L396.4 336.6ZM410.4 354L421.6 347.4L421.6 360.6ZM443.6 380L432.4 373.4L432.4 386.6ZM443.4 399L454.6 392.4L454.6 405.6ZM473.6 422L462.4 415.4L462.4 428.6ZM450.4 440L461.6 433.4L461.6 446.6ZM458.6 462L447.4 455.4L447.4 468.6ZM441.4 484L452.6 477.4L452.6 490.6ZM440.6 507L429.4 500.4L429.4 513.6ZM407.4 529L418.6 522.4L418.6 535.6ZM406.6 559L395.4 552.4L395.4 565.6ZM386.4 582L397.6 575.4L397.6 588.6ZM408.6 606.8L397.4 600.2L397.4 613.4ZM860.5 67.8L871.7 61.2L871.7 74.4ZM869.1 82.2L857.9 75.6L857.9 88.8ZM858.2 102.5L869.4 95.9L869.4 109.1ZM858.6 127.4L847.4 120.8L847.4 134ZM818.4 151.4L829.6 144.8L829.6 158ZM819.6 175.4L808.4 168.8L808.4 182ZM820.6 199.5L831.8 192.9L831.8 206.1ZM862.6 223.7L851.4 217.1L851.4 230.3ZM884.9 253.4L896.1 246.8L896.1 260ZM912.8 281.3L901.6 274.7L901.6 287.9ZM902.4 312L913.6 305.4L913.6 318.6ZM879.7 345.3L890.9 338.7L890.9 351.9ZM860.2 370.9L849 364.3L849 377.5ZM844.9 396.5L856.1 389.9L856.1 403.1ZM847.4 445.1L858.6 438.5L858.6 451.7ZM860.2 467.8L849 461.2L849 474.4ZM853.8 514.4L865 507.8L865 521ZM852.7 583.8L863.9 577.2L863.9 590.4ZM625.2 619.5L614 612.9L614 626.1Z" stroke="#000" stroke-width="1.4" fill="none" stroke-linejoin="miter"/>
<circle cx="803" cy="172.3" r="4.9" fill="#ff0000"/>
<path d="M401.3 600.3L395.7 610.5L406.9 610.5ZM619.2 613.3L613.6 623.5L624.8 623.5ZM740.6 608.6L735 618.8L746.2 618.8ZM813.3 168.9L807.7 179.1L818.9 179.1Z" stroke="#000" stroke-width="1.4" fill="#ff0000"/>
<path d="M74.5 29.5V715.5H942.2M74.5 715.5v-9M155.5 715.5v-9M235.5 715.5v-9M316.5 715.5v-9M397.5 715.5v-9M478.5 715.5v-9M558.5 715.5v-9M639.5 715.5v-9M720.5 715.5v-9M801.5 715.5v-9M881.5 715.5v-9M74.5 29.5h9M74.5 98.5h9M74.5 166.5h9M74.5 235.5h9M74.5 303.5h9M74.5 372.5h9M74.5 441.5h9M74.5 509.5h9M74.5 578.5h9M74.5 646.5h9M74.5 715.5h9" stroke="#262626" stroke-width="1.3" fill="none"/>
<g font-family="'Liberation Sans', sans-serif" font-size="20" fill="#262626">
<text x="71.8" y="743" text-anchor="middle">-27</text>
<text x="152.5" y="743" text-anchor="middle">-23</text>
<text x="233.3" y="743" text-anchor="middle">-19</text>
<text x="314" y="743" text-anchor="middle">-15</text>
<text x="394.7" y="743" text-anchor="middle">-11</text>
<text x="476.6" y="743" text-anchor="middle">-7</text>
<text x="557.4" y="743" text-anchor="middle">-3</text>
<text x="639.6" y="743" text-anchor="middle">1</text>
<text x="720.3" y="743" text-anchor="middle">5</text>
<text x="801" y="743" text-anchor="middle">9</text>
<text x="881.8" y="743" text-anchor="middle">13</text>
<text x="59.5" y="36.6" text-anchor="end">0</text>
<text x="59.5" y="105.2" text-anchor="end">50</text>
<text x="59.5" y="173.8" text-anchor="end">100</text>
<text x="59.5" y="242.4" text-anchor="end">150</text>
<text x="59.5" y="311" text-anchor="end">200</text>
<text x="59.5" y="379.6" text-anchor="end">250</text>
<text x="59.5" y="448.2" text-anchor="end">300</text>
<text x="59.5" y="516.8" text-anchor="end">350</text>
<text x="59.5" y="585.4" text-anchor="end">400</text>
<text x="59.5" y="654" text-anchor="end">450</text>
<text x="59.5" y="722.6" text-anchor="end">500</text>
<text x="392" y="771.3" textLength="199.5" lengthAdjust="spacingAndGlyphs">Vertical Velocity [cm/s]</text>
<text transform="translate(14.3,380.5) rotate(-90)" text-anchor="middle" font-size="20.5">Depth [m]</text>
</g>
<text x="456" y="17.3" text-anchor="middle" font-family="'Liberation Sans', sans-serif" font-size="24" font-weight="bold" fill="#000">p6610007: glob25 13-Feb-2025 00:06:32Z</text>
<g font-family="'Liberation Sans', sans-serif" font-size="20" fill="#000">
<text x="74.8" y="790.8">13-Feb-2025 06:14:09</text>
<text x="594.5" y="787">mass=53.125kg, mass</text>
<text x="824" y="797.2" font-size="16" letter-spacing="2">comp</text>
<text x="872.5" y="787">=0.000kg, volmax=5</text>
</g>
<circle cx="128.4" cy="607" r="2.4" fill="#0000ff"/>
<path d="M99 632.8H158" stroke="#00ffff" stroke-width="1.3"/>
<path d="M99 658H158" stroke="#ff0000" stroke-width="1.3"/>
<path d="M99 683.2H158" stroke="#ff00ff" stroke-width="1.3"/>
<g font-family="'Liberation Sans', sans-serif" font-size="18" fill="#000">
<text x="164.5" y="613.4">Based on Pressure Change</text>
<text x="164.5" y="638.7">Based on Buoyancy and Pitch</text>
<text x="164.5" y="664">Upwelling on Descent</text>
<text x="164.5" y="689.3">Upwelling on Ascent</text>
</g>
</svg>
</body></html>
